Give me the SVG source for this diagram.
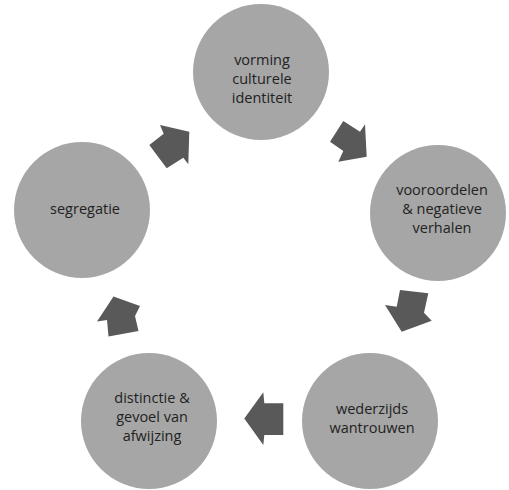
<svg xmlns="http://www.w3.org/2000/svg" width="509" height="490" viewBox="0 0 509 490">
<style>
.c{fill:#a6a6a6}
.a{fill:#595959}
.t{font-family:"Open Sans","Segoe UI","DejaVu Sans",sans-serif;font-size:14.5px;fill:#222222;text-anchor:middle}
</style>
<rect width="509" height="490" fill="#ffffff"/>
<g id="connectors">
<polygon class="a" points="160,125 189.3,131.7 188.3,164.3 183.3,157.7 166.7,168.3 149.3,145 163.7,133.7"/>
<polygon class="a" points="343.3,121 360,131.7 365,124.3 366.7,156.7 338.3,161.7 343.3,151 330,141.7"/>
<polygon class="a" points="400,290 428.3,293.3 424,312.7 431.7,320.7 401.7,331.7 385,305 396.7,306.7"/>
<polygon class="a" points="244.3,418.5 263.3,392.3 264.3,403.3 283.3,403.3 283.3,435 264.3,435 263.3,445"/>
<polygon class="a" points="113.5,296.5 140,306 135,316 138.5,331 108.5,336.5 107,320 97,321.5"/>
</g>
<g id="n1"><circle class="c" cx="261" cy="72" r="68"/><text class="t" x="262" y="65">vorming</text><text class="t" x="262" y="84">culturele</text><text class="t" x="262" y="103">identiteit</text></g>
<g id="n2"><circle class="c" cx="438" cy="213" r="68"/><text class="t" x="442" y="195">vooroordelen</text><text class="t" x="442" y="214">&amp; negatieve</text><text class="t" x="442" y="233">verhalen</text></g>
<g id="n3"><circle class="c" cx="370" cy="421" r="68"/><text class="t" x="372" y="414">wederzijds</text><text class="t" x="372" y="433">wantrouwen</text></g>
<g id="n4"><circle class="c" cx="149" cy="421" r="68"/><text class="t" x="152" y="403">distinctie &amp;</text><text class="t" x="152" y="422">gevoel van</text><text class="t" x="152" y="441">afwijzing</text></g>
<g id="n5"><circle class="c" cx="82" cy="210" r="68"/><text class="t" x="85" y="214">segregatie</text></g>
</svg>
